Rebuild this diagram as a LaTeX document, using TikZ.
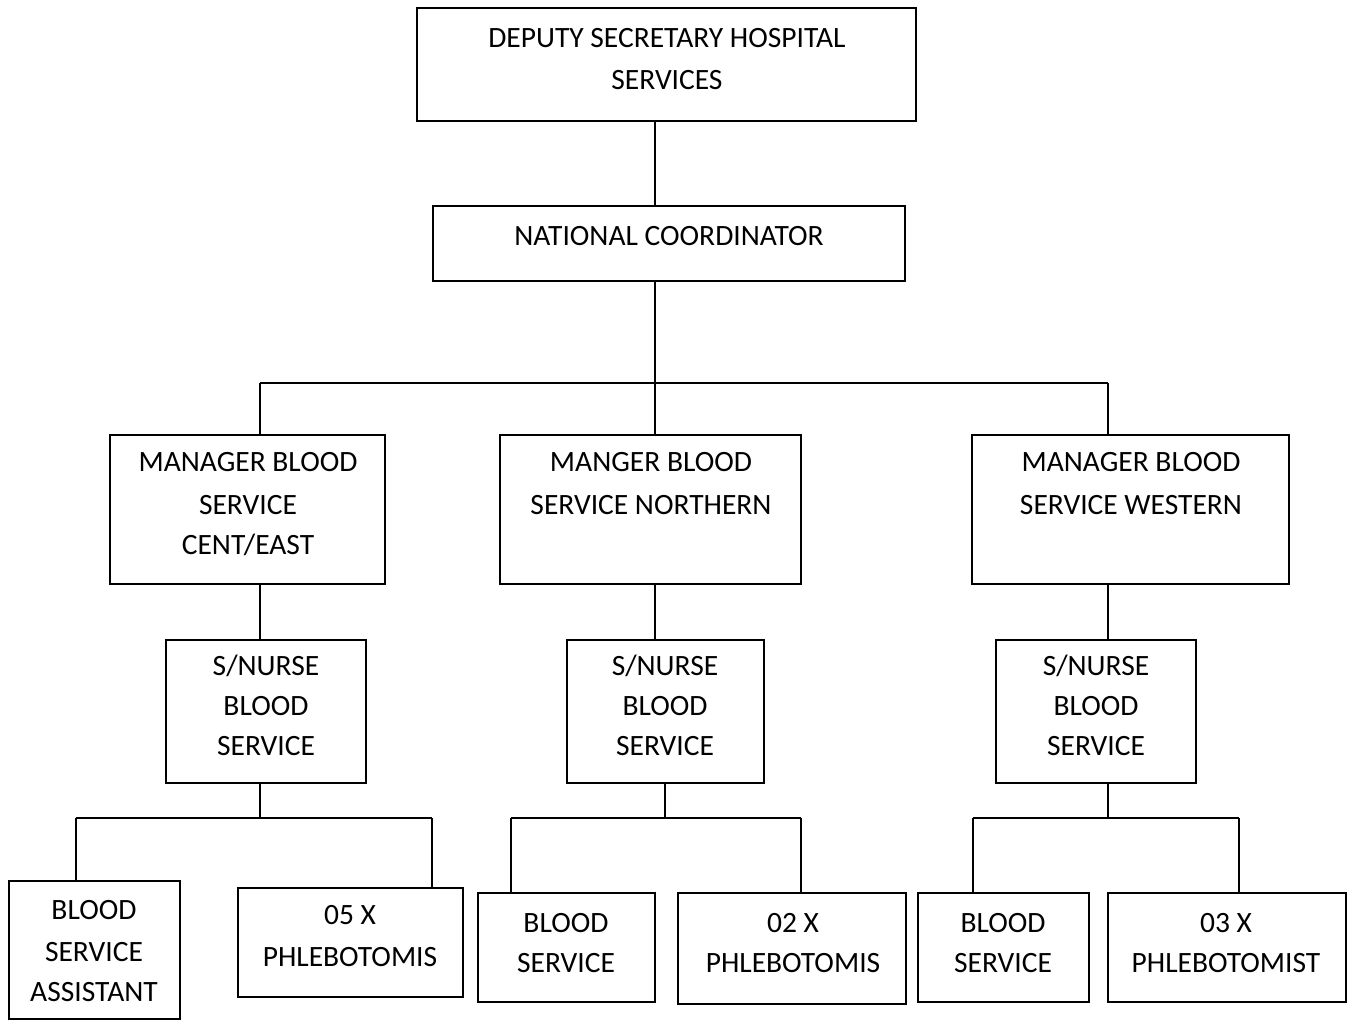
\documentclass[tikz,border=0pt]{standalone}
\usepackage{fontspec}
\setmainfont{Carlito}
\begin{document}
\begin{tikzpicture}[x=1pt,y=-1pt,
  orgbox/.style={draw,line width=2pt,inner sep=0pt},
  orgtext/.style={inner sep=0pt,align=center,anchor=base,font=\fontsize{29.5}{41}\selectfont},
  link/.style={line width=2pt}]
\useasboundingbox (0,0) rectangle (1349,1021);
\newcommand\orgbox[8]{%
  \node[orgbox,minimum width={#4-#2},minimum height={#5-#3}] (#1) at ({(#2+#4)/2},{(#3+#5)/2}) {};
  \node[orgtext] (#1t) at (#6,#7) {#8};}
\orgbox{d}{417}{8}{916}{121}{667}{89}{DEPUTY SECRETARY HOSPITAL\\[1pt]SERVICES}
\orgbox{n}{433}{206}{905}{281}{669}{245}{NATIONAL COORDINATOR}
\orgbox{m1}{110}{435}{385}{584}{248}{554}{MANAGER BLOOD\\[2pt]SERVICE\\[-1pt]CENT/EAST}
\orgbox{m2}{500}{435}{801}{584}{651}{514}{MANGER BLOOD\\[2pt]SERVICE NORTHERN}
\orgbox{m3}{972}{435}{1289}{584}{1131}{514}{MANAGER BLOOD\\[2pt]SERVICE WESTERN}
\orgbox{s1}{166}{640}{366}{783}{266}{755}{S/NURSE\\[-1pt]BLOOD\\[-1pt]SERVICE}
\orgbox{s2}{567}{640}{764}{783}{665}{755}{S/NURSE\\[-1pt]BLOOD\\[-1pt]SERVICE}
\orgbox{s3}{996}{640}{1196}{783}{1096}{755}{S/NURSE\\[-1pt]BLOOD\\[-1pt]SERVICE}
\orgbox{l1}{9}{881}{180}{1019}{94}{1001}{BLOOD\\[1pt]SERVICE\\[-1pt]ASSISTANT}
\orgbox{l2}{238}{888}{463}{997}{350}{966}{05 X\\[1pt]PHLEBOTOMIS}
\orgbox{l3}{478}{893}{655}{1002}{566}{972}{BLOOD\\[-1pt]SERVICE}
\orgbox{l4}{678}{893}{906}{1004}{793}{972}{02 X\\[-1pt]PHLEBOTOMIS}
\orgbox{l5}{918}{893}{1089}{1002}{1003}{972}{BLOOD\\[-1pt]SERVICE}
\orgbox{l6}{1108}{893}{1346}{1002}{1226}{972}{03 X\\[-1pt]PHLEBOTOMIST}
% bus coordinates
\coordinate (b1) at (260,383);
\coordinate (b2) at (655,383);
\coordinate (b3) at (1108,383);
\coordinate (c1) at (260,818);
\coordinate (c1l) at (76,818);
\coordinate (c1r) at (432,818);
\coordinate (c2) at (665,818);
\coordinate (c2l) at (511,818);
\coordinate (c2r) at (801,818);
\coordinate (c3) at (1108,818);
\coordinate (c3l) at (973,818);
\coordinate (c3r) at (1239,818);
% connectors
\draw[link] (d.south -| b2) -- (n.north -| b2);
\draw[link] (n.south -| b2) -- (b2);
\draw[link] (b1) -- (b3);
\draw[link] (b1) -- (m1.north -| b1);
\draw[link] (b2) -- (m2.north -| b2);
\draw[link] (b3) -- (m3.north -| b3);
\draw[link] (m1.south -| b1) -- (s1.north -| b1);
\draw[link] (m2.south -| b2) -- (s2.north -| b2);
\draw[link] (m3.south -| b3) -- (s3.north -| b3);
\draw[link] (s1.south -| c1) -- (c1);
\draw[link] (s2.south -| c2) -- (c2);
\draw[link] (s3.south -| c3) -- (c3);
\draw[link] (c1l) -- (c1r);
\draw[link] (c2l) -- (c2r);
\draw[link] (c3l) -- (c3r);
\draw[link] (c1l) -- (l1.north -| c1l);
\draw[link] (c1r) -- (l2.north -| c1r);
\draw[link] (c2l) -- (l3.north -| c2l);
\draw[link] (c2r) -- (l4.north -| c2r);
\draw[link] (c3l) -- (l5.north -| c3l);
\draw[link] (c3r) -- (l6.north -| c3r);
\end{tikzpicture}
\end{document}
